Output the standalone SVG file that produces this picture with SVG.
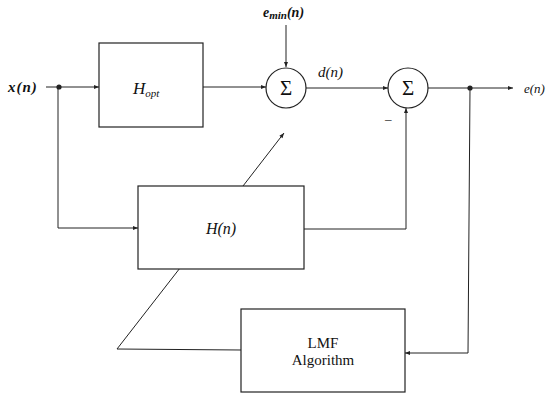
<svg xmlns="http://www.w3.org/2000/svg" width="550" height="396" viewBox="0 0 550 396">
<style>
.box{fill:#fff;stroke:#222;stroke-width:1.2}
.ln{fill:none;stroke:#222;stroke-width:1}
.m{font-family:"Liberation Serif",serif;font-style:italic;fill:#111}
.r{font-family:"Liberation Serif",serif;fill:#111}
</style>
<defs>
<marker id="ah" viewBox="0 0 10 10" refX="10" refY="5" markerWidth="7" markerHeight="5" orient="auto" markerUnits="userSpaceOnUse">
<path d="M0,1 L10,5 L0,9 z" fill="#222"/>
</marker>
</defs>
<rect width="550" height="396" fill="#fff"/>
<g id="connectors">
<line class="ln" x1="46" y1="87" x2="99" y2="87" marker-end="url(#ah)"/>
<circle cx="59" cy="87" r="2.6" fill="#222"/>
<polyline class="ln" points="58,87 58,228 138,228" marker-end="url(#ah)"/>
<line class="ln" x1="203" y1="87" x2="266" y2="87" marker-end="url(#ah)"/>
<line class="ln" x1="286" y1="25" x2="286" y2="67" marker-end="url(#ah)"/>
<line class="ln" x1="306" y1="88" x2="388" y2="88" marker-end="url(#ah)"/>
<line class="ln" x1="428" y1="88" x2="513" y2="88" marker-end="url(#ah)"/>
<circle cx="470" cy="88" r="2.6" fill="#222"/>
<polyline class="ln" points="304,229 406,229 406,108" marker-end="url(#ah)"/>
<polyline class="ln" points="470,88 468,353 405,353" marker-end="url(#ah)"/>
<polyline class="ln" points="241,350 117,349 180,268"/>
<line class="ln" x1="243" y1="186" x2="284" y2="133" marker-end="url(#ah)"/>
</g>
<g id="hopt">
<rect class="box" x="99" y="43" width="104" height="84"/>
<text class="m" x="133" y="94" font-size="17">H<tspan font-size="11" dy="3">opt</tspan></text>
</g>
<g id="sum1">
<circle class="box" cx="286" cy="88" r="20"/>
<text class="r" x="286" y="95" font-size="21" text-anchor="middle">Σ</text>
</g>
<g id="sum2">
<circle class="box" cx="408" cy="88" r="20"/>
<text class="r" x="408" y="95" font-size="21" text-anchor="middle">Σ</text>
</g>
<g id="hn">
<rect class="box" x="138" y="186" width="166" height="83"/>
<text class="m" x="221" y="234" font-size="16" text-anchor="middle">H(n)</text>
</g>
<g id="lmf">
<rect class="box" x="241" y="309" width="164" height="83"/>
<text class="r" x="323" y="348" font-size="15" text-anchor="middle">LMF</text>
<text class="r" x="323" y="365" font-size="15" text-anchor="middle">Algorithm</text>
</g>
<g id="labels">
<text class="m" x="8" y="92" font-size="15" font-weight="bold" letter-spacing="1">x(n)</text>
<text class="m" x="263" y="17" font-size="14" font-weight="bold">e<tspan font-size="11" dy="2">min</tspan><tspan dy="-2">(n)</tspan></text>
<text class="m" x="318" y="77" font-size="15">d(n)</text>
<text class="r" x="385" y="123" font-size="13">–</text>
<text class="m" x="524" y="93" font-size="13">e(n)</text>
</g>
</svg>
